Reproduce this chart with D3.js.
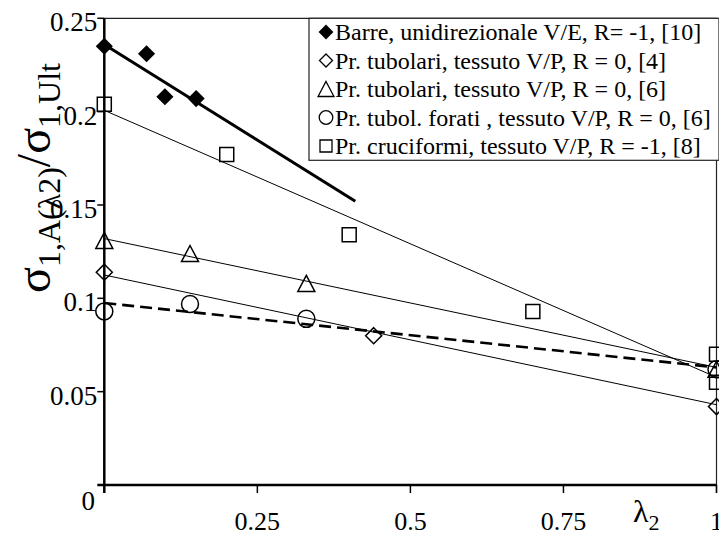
<!DOCTYPE html>
<html><head><meta charset="utf-8">
<script src="https://cdn.jsdelivr.net/npm/d3@7"></script>
<style>
body{margin:0;background:#fff}
svg{display:block}
svg text{font-family:"Liberation Serif","Times New Roman",Times,"DejaVu Serif",serif;fill:#000}
</style>
</head><body>
<svg id="c" width="719" height="537" font-family="Liberation Serif, Times New Roman, serif"></svg>
<script>
// ---- data ----
const legendLabels = [
  "Barre, unidirezionale V/E, R= -1, [10]",
  "Pr. tubolari, tessuto V/P, R = 0, [4]",
  "Pr. tubolari, tessuto V/P, R = 0, [6]",
  "Pr. tubol. forati , tessuto V/P, R = 0, [6]",
  "Pr. cruciformi, tessuto V/P, R = -1, [8]"
];
const barre      = [[0,0.235],[0.069,0.231],[0.099,0.208],[0.150,0.207]];
const tubolari4  = [[0,0.114],[0.44,0.080],[1,0.042]];
const tubolari6  = [[0,0.131],[0.14,0.124],[0.33,0.108],[1,0.062]];
const forati6    = [[0,0.093],[0.14,0.097],[0.33,0.089],[1,0.062]];
const cruciformi = [[0,0.204],[0.2,0.177],[0.4,0.134],[0.7,0.093],[1,0.070],[1,0.055]];
const trendBarre = [[0,0.236],[0.41,0.152]];
const trend4     = [[0,0.1125],[1,0.043]];
const trend6     = [[0,0.132],[1,0.063]];
const trendForati= [[0,0.0975],[1,0.063]];
const trend8     = [[0,0.2007],[1,0.0577]];
const xTicks = [0.25,0.5,0.75,1];
const xTickLabels = ["0.25","0.5","0.75","1"];
const yTicks = [0.05,0.1,0.15,0.2,0.25];
const yTickLabels = ["0.05","0.1","0.15","0.2","0.25"];

// ---- layout ----
const FONT = '"Liberation Serif","Times New Roman",Times,"DejaVu Serif",serif';
const svg = d3.select("#c");
const x = d3.scaleLinear().domain([0,1]).range([104.3,716.5]);
const y = d3.scaleLinear().domain([0,0.25]).range([485,18.3]);

const shapes = {
  diamondF: r => `M0,${-r}L${r},0L0,${r}L${-r},0Z`,
  diamond: r => `M0,${-r}L${r},0L0,${r}L${-r},0Z`,
  triangle: r => `M0,${-r}L${r*1.06},${r}L${-r*1.06},${r}Z`,
  circle: r => `M${r},0A${r},${r} 0 1,1 ${-r},0A${r},${r} 0 1,1 ${r},0Z`,
  square: r => `M${-r},${-r}H${r}V${r}H${-r}Z`
};

// frame
const g = svg.append("g");
g.append("line").attr("x1",x(0)).attr("x2",x(1)+1).attr("y1",y(0.25)).attr("y2",y(0.25)).attr("stroke","#222").attr("stroke-width",1.2);
g.append("line").attr("x1",x(1)).attr("x2",x(1)).attr("y1",y(0.25)).attr("y2",y(0)+8).attr("stroke","#222").attr("stroke-width",1.2);

// legend box
const lg = svg.append("g");
lg.append("rect").attr("x",309).attr("y",y(0.25)).attr("width",410).attr("height",142)
  .attr("fill","#fff").attr("stroke","#222").attr("stroke-width",1.2);

// trend lines
const line = d3.line().x(d=>x(d[0])).y(d=>y(d[1]));
const trends = [
  {d:trend8, w:1, dash:null},
  {d:trend6, w:1, dash:null},
  {d:trend4, w:1, dash:null},
  {d:trendForati, w:2.6, dash:"12,6"},
  {d:trendBarre, w:3, dash:null}
];
trends.forEach(t=>{
  svg.append("path").attr("d",line(t.d)).attr("fill","none").attr("stroke","#000")
    .attr("stroke-width",t.w).attr("stroke-dasharray",t.dash);
});

// markers
const series = [
  {d:barre, shape:"diamondF", r:7.5, fill:"#000"},
  {d:tubolari4, shape:"diamond", r:8, fill:"none"},
  {d:tubolari6, shape:"triangle", r:8, fill:"none"},
  {d:forati6, shape:"circle", r:8.5, fill:"none"},
  {d:cruciformi, shape:"square", r:7, fill:"none"}
];
series.forEach(s=>{
  svg.append("g").selectAll("path").data(s.d).join("path")
    .attr("transform",d=>`translate(${x(d[0])},${y(d[1])})`)
    .attr("d",shapes[s.shape](s.r))
    .attr("fill",s.fill).attr("stroke","#000").attr("stroke-width",1.5);
});

// legend entries
const rowY = d3.scaleLinear().domain([0,4]).range([32,146]);
series.forEach((s,i)=>{
  const rr = s.shape==="triangle"?7.5:(s.shape==="circle"?6.8:(s.shape==="square"?6:6.5));
  lg.append("path").attr("transform",`translate(326,${rowY(i)})`)
    .attr("d",shapes[s.shape](rr)).attr("fill",s.fill).attr("stroke","#000").attr("stroke-width",1.3);
  lg.append("text").attr("x",335).attr("y",rowY(i)+8).attr("font-size",24)
    .style("font-family",FONT).text(legendLabels[i]);
});

// axes
const ax = svg.append("g");
ax.append("line").attr("x1",x(0)).attr("x2",x(0)).attr("y1",y(0.25)).attr("y2",y(0)+8).attr("stroke","#000").attr("stroke-width",2.5);
ax.append("line").attr("x1",x(0)-7).attr("x2",x(1)).attr("y1",y(0)).attr("y2",y(0)).attr("stroke","#000").attr("stroke-width",2.5);
ax.selectAll(".yt").data(yTicks).join("line")
  .attr("x1",x(0)-7).attr("x2",x(0)).attr("y1",d=>y(d)).attr("y2",d=>y(d))
  .attr("stroke","#000").attr("stroke-width",1.5);
ax.selectAll(".xt").data(xTicks).join("line")
  .attr("x1",d=>x(d)).attr("x2",d=>x(d)).attr("y1",y(0)).attr("y2",y(0)+8)
  .attr("stroke","#000").attr("stroke-width",1.5);
ax.selectAll(".yl").data(yTicks).join("text")
  .attr("x",x(0)-7).attr("y",d=>y(d)+13).attr("text-anchor","end").attr("font-size",27)
  .style("font-family",FONT).text((d,i)=>yTickLabels[i]);
ax.append("text").attr("x",95).attr("y",510).attr("text-anchor","end").attr("font-size",27)
  .style("font-family",FONT).text("0");
ax.selectAll(".xl").data(xTicks).join("text")
  .attr("x",d=>x(d)).attr("y",530).attr("text-anchor","middle").attr("font-size",26)
  .style("font-family",FONT).text((d,i)=>xTickLabels[i]);

// x title
const xt = svg.append("text").attr("x",633).attr("y",522).attr("font-size",32).style("font-family",FONT);
xt.append("tspan").text("λ");
xt.append("tspan").attr("font-size",22).attr("dy",8).text("2");

// y title
const yt = svg.append("text").attr("transform","translate(50,178) rotate(-90)")
  .attr("text-anchor","middle").attr("font-size",48).style("font-family",FONT);
yt.append("tspan").text("σ");
yt.append("tspan").attr("font-size",32).attr("dy",10).text("1,A(λ2)");
yt.append("tspan").attr("font-size",48).attr("dy",-10).text("/");
yt.append("tspan").attr("font-size",48).text("σ");
yt.append("tspan").attr("font-size",32).attr("dy",10).text("1,Ult");
</script>
</body></html>
